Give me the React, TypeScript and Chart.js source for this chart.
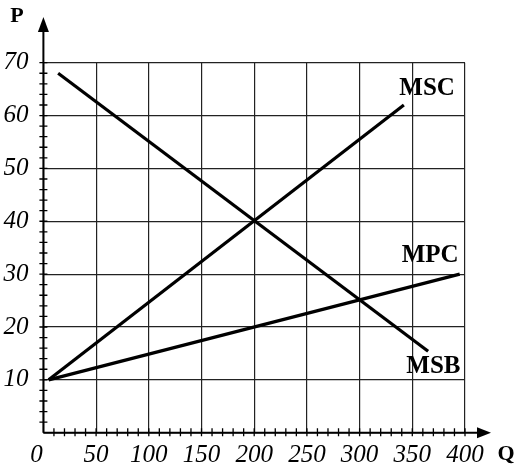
import React, { useEffect, useRef } from "react";
import { Chart, registerables } from "chart.js";

Chart.register(...registerables);

// Quantity (Q) and price (P) values of each curve's end points
const mscQ = [5, 342];
const mscP = [10, 62];
const msbQ = [14, 365];
const msbP = [68, 15.4];
const mpcQ = [5, 395];
const mpcP = [10, 30];

// Curve labels and where they sit (data coordinates)
const curveNames = ["MSC", "MPC", "MSB"];
const curveLabelQ = [364, 367, 370];
const curveLabelP = [65.2, 33.5, 12.5];

// Axis ranges / ticks
const xMin = 0;
const xMax = 400;
const xStep = 50;
const xMinorStep = 10;
const yMin = 0;
const yMax = 70;
const yStep = 10;
const yMinorStep = 2;
const xTitle = "Q";
const yTitle = "P";
const originLabel = "0";

const pts = (xs: number[], ys: number[]) => xs.map((x, i) => ({ x, y: ys[i] }));

const econPlugin = {
  id: "econ",
  afterDraw(chart: any) {
    const ctx = chart.ctx as CanvasRenderingContext2D;
    const xs = chart.scales.x;
    const ys = chart.scales.y;
    const x0 = xs.getPixelForValue(0);
    const y0 = ys.getPixelForValue(0);
    ctx.save();
    ctx.strokeStyle = "#000";
    ctx.fillStyle = "#000";
    // axes
    ctx.lineWidth = 2;
    ctx.beginPath();
    ctx.moveTo(x0, y0);
    ctx.lineTo(x0, 30);
    ctx.moveTo(x0, y0);
    ctx.lineTo(479, y0);
    ctx.stroke();
    // arrow heads
    ctx.beginPath();
    ctx.moveTo(x0, 17);
    ctx.lineTo(x0 - 5.5, 32);
    ctx.lineTo(x0 + 5.5, 32);
    ctx.closePath();
    ctx.fill();
    ctx.beginPath();
    ctx.moveTo(491, y0);
    ctx.lineTo(477, y0 - 5.5);
    ctx.lineTo(477, y0 + 5.5);
    ctx.closePath();
    ctx.fill();
    // minor ticks
    ctx.lineWidth = 1.3;
    ctx.beginPath();
    for (let v = xMinorStep; v <= xMax; v += xMinorStep) {
      const px = xs.getPixelForValue(v);
      ctx.moveTo(px, y0 - 4.5);
      ctx.lineTo(px, y0 + 3.5);
    }
    for (let v = yMinorStep; v <= yMax; v += yMinorStep) {
      const py = ys.getPixelForValue(v);
      ctx.moveTo(x0 - 4, py);
      ctx.lineTo(x0 + 4, py);
    }
    ctx.stroke();
    // origin label (sits left of the axis in the original)
    ctx.font = "italic 25px 'Liberation Serif'";
    ctx.textAlign = "center";
    ctx.textBaseline = "middle";
    ctx.fillText(originLabel, x0 - 7, 455);
    // titles
    ctx.font = "bold 22px 'Liberation Serif'";
    ctx.fillText(yTitle, 17, 16);
    ctx.fillText(xTitle, 506, 454);
    // curve labels
    ctx.font = "bold 25px 'Liberation Serif'";
    curveNames.forEach((n, i) => {
      ctx.fillText(n, xs.getPixelForValue(curveLabelQ[i]), ys.getPixelForValue(curveLabelP[i]));
    });
    ctx.restore();
  },
};

export default function App() {
  const ref = useRef<HTMLCanvasElement>(null);
  useEffect(() => {
    if (!ref.current) return;
    const lineDs = (data: any) => ({
      data,
      showLine: true,
      borderColor: "#000",
      borderWidth: 3.2,
      pointRadius: 0,
      fill: false,
    });
    const tickFont = { family: "'Liberation Serif'", size: 25, style: "italic" as const };
    const chart = new Chart(ref.current, {
      type: "scatter",
      data: {
        datasets: [lineDs(pts(mscQ, mscP)), lineDs(pts(msbQ, msbP)), lineDs(pts(mpcQ, mpcP))],
      },
      options: {
        animation: false,
        responsive: false,
        maintainAspectRatio: false,
        layout: { padding: { left: 0, right: 54, top: 62.7, bottom: 0 } },
        plugins: { legend: { display: false }, tooltip: { enabled: false } },
        scales: {
          x: {
            type: "linear",
            min: xMin,
            max: xMax,
            afterFit: (s: any) => {
              s.height = 32.3;
            },
            ticks: {
              stepSize: xStep,
              color: "#000",
              font: tickFont,
              padding: 8,
              maxRotation: 0,
              autoSkip: false,
              callback: (v: any) => (v === 0 ? "" : String(v)),
            },
            grid: { color: "#222", lineWidth: 1.2, drawTicks: false },
            border: { display: false },
          },
          y: {
            type: "linear",
            min: yMin,
            max: yMax,
            afterFit: (s: any) => {
              s.width = 43.4;
            },
            ticks: {
              stepSize: yStep,
              color: "#000",
              font: tickFont,
              padding: 15,
              callback: (v: any) => (v === 0 ? "" : String(v)),
            },
            grid: { color: "#222", lineWidth: 1.2, drawTicks: false },
            border: { display: false },
          },
        },
      },
      plugins: [econPlugin],
    });
    return () => chart.destroy();
  }, []);
  return (
    <div style={{ position: "fixed", left: 0, top: 0, width: 519, height: 465, background: "#fff" }}>
      <canvas ref={ref} width={519} height={465} style={{ display: "block" }} />
    </div>
  );
}
